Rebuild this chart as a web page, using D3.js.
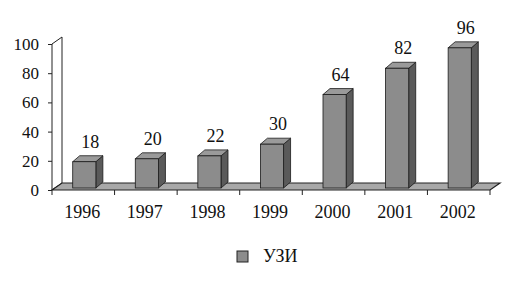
<!DOCTYPE html>
<html>
<head>
<meta charset="utf-8">
<script src="https://cdn.jsdelivr.net/npm/d3@7/dist/d3.min.js"></script>
<style>
  body { margin: 0; background: #fff; }
  svg { display: block; font-family: "Liberation Serif", "DejaVu Serif", serif; }
</style>
</head>
<body>
<div id="chart"></div>
<script>
// data
const years = ["1996", "1997", "1998", "1999", "2000", "2001", "2002"];
const values = [18, 20, 22, 30, 64, 82, 96];
const yTicks = [0, 20, 40, 60, 80, 100];
const seriesName = "УЗИ";

const W = 508, H = 297;
const plotLeft = 52, plotRight = 490, plotBase = 190, plotTop = 44;
const depth = { dx: 10, dy: -7 };     // floor / wall depth
const barDepth = { dx: 7, dy: -6 };   // depth of each column
const ink = "#111";

const svg = d3.select("#chart").append("svg")
    .attr("width", W)
    .attr("height", H);

const x = d3.scaleBand()
    .domain(years)
    .range([plotLeft, plotRight])
    .paddingInner(0.63)
    .paddingOuter(0.315);

const y = d3.scaleLinear()
    .domain([0, 100])
    .range([plotBase, plotTop]);

// side wall
svg.append("polygon")
    .attr("points", [
        [plotLeft, plotBase], [plotLeft, plotTop],
        [plotLeft + depth.dx, plotTop + depth.dy], [plotLeft + depth.dx, plotBase + depth.dy]
    ].join(" "))
    .attr("fill", "#fff")
    .attr("stroke", "#222")
    .attr("stroke-width", 1);

// floor
svg.append("polygon")
    .attr("points", [
        [plotLeft, plotBase], [plotRight, plotBase],
        [plotRight + depth.dx, plotBase + depth.dy], [plotLeft + depth.dx, plotBase + depth.dy]
    ].join(" "))
    .attr("fill", "#a8a8a8")
    .attr("stroke", "#222")
    .attr("stroke-width", 1.2);

// y axis
const yAxis = svg.append("g")
    .attr("transform", `translate(${plotLeft},0)`)
    .call(d3.axisLeft(y).tickValues(yTicks).tickSize(4).tickPadding(9));
yAxis.select(".domain").remove();
yAxis.selectAll("line").attr("stroke", "#222");
yAxis.selectAll("text")
    .attr("font-size", 17)
    .attr("font-family", "Liberation Serif")
    .attr("fill", ink);

// x axis labels
const xAxis = svg.append("g")
    .attr("transform", `translate(-1,${plotBase})`)
    .call(d3.axisBottom(x).tickSize(0).tickPadding(15));
xAxis.select(".domain").remove();
xAxis.selectAll("text")
    .attr("font-size", 18)
    .attr("font-family", "Liberation Serif")
    .attr("fill", ink);

// x ticks at category boundaries
const bounds = [plotLeft].concat(years.map(d => x(d) - x.step() * x.paddingInner() / 2 + x.step()));
svg.append("g").selectAll("line")
    .data(bounds)
    .enter().append("line")
    .attr("x1", d => d).attr("x2", d => d)
    .attr("y1", plotBase).attr("y2", plotBase + 5)
    .attr("stroke", "#222");

// columns
const off = { dx: 1, dy: -2 };
const bars = svg.append("g").selectAll("g")
    .data(values.map((v, i) => ({ year: years[i], value: v })))
    .enter().append("g");

bars.append("polygon") // side
    .attr("points", d => {
        const x1 = x(d.year) + off.dx + x.bandwidth();
        const y0 = y(0) + off.dy, y1 = y(d.value) + off.dy;
        return [[x1, y0], [x1, y1], [x1 + barDepth.dx, y1 + barDepth.dy], [x1 + barDepth.dx, y0 + barDepth.dy]].join(" ");
    })
    .attr("fill", "#5a5a5a")
    .attr("stroke", "#1a1a1a")
    .attr("stroke-width", 0.8);

bars.append("polygon") // top
    .attr("points", d => {
        const x0 = x(d.year) + off.dx, x1 = x0 + x.bandwidth();
        const y1 = y(d.value) + off.dy;
        return [[x0, y1], [x1, y1], [x1 + barDepth.dx, y1 + barDepth.dy], [x0 + barDepth.dx, y1 + barDepth.dy]].join(" ");
    })
    .attr("fill", "#9a9a9a")
    .attr("stroke", "#1a1a1a")
    .attr("stroke-width", 0.8);

bars.append("rect") // front
    .attr("x", d => x(d.year) + off.dx)
    .attr("y", d => y(d.value) + off.dy)
    .attr("width", x.bandwidth())
    .attr("height", d => y(0) - y(d.value))
    .attr("fill", "#8c8c8c")
    .attr("stroke", "#1a1a1a")
    .attr("stroke-width", 0.8);

// value labels
bars.append("text")
    .attr("x", d => x(d.year) + off.dx + x.bandwidth() / 2 + 6)
    .attr("y", d => y(d.value) + off.dy + barDepth.dy - 8)
    .attr("text-anchor", "middle")
    .attr("font-size", 18)
    .attr("fill", ink)
    .text(d => d.value);

// legend
const legend = svg.append("g").attr("transform", "translate(237,251)");
legend.append("rect")
    .attr("width", 11).attr("height", 11)
    .attr("fill", "#8c8c8c")
    .attr("stroke", "#222");
legend.append("text")
    .attr("x", 26).attr("y", 11)
    .attr("font-size", 18)
    .attr("fill", ink)
    .text(seriesName);
</script>
</body>
</html>
